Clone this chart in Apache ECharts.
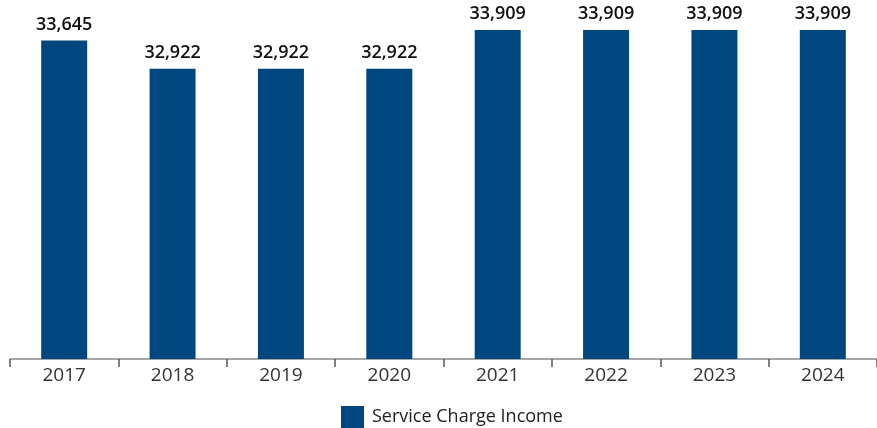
<!DOCTYPE html>
<html>
<head>
<meta charset="utf-8">
<script src="https://cdn.jsdelivr.net/npm/echarts@6/dist/echarts.min.js"></script>
<style>
  html, body { margin: 0; padding: 0; background: #fff; }
  #chart { width: 877px; height: 428px; }
</style>
</head>
<body>
<div id="chart"></div>
<script>
// Service charge income by year
const years = ['2017', '2018', '2019', '2020', '2021', '2022', '2023', '2024'];
const serviceChargeIncome = [33645, 32922, 32922, 32922, 33909, 33909, 33909, 33909];
const seriesName = 'Service Charge Income';

const barColor = '#00477F';
const fontFamily = '"Open Sans", "Noto Sans", sans-serif';

const chart = echarts.init(document.getElementById('chart'));
chart.setOption({
  animation: false,
  grid: { left: 10, right: -4, top: 7, bottom: 69, containLabel: false },
  legend: {
    data: [seriesName],
    icon: 'rect',
    left: 336,
    top: 401,
    itemWidth: 23,
    itemHeight: 22,
    itemGap: 8,
    textStyle: { fontFamily, fontSize: 18, color: '#222', fontWeight: 500, padding: [0, 0, 0, 3] }
  },
  xAxis: {
    type: 'category',
    data: years,
    axisLine: { lineStyle: { color: '#8a8a8a', width: 1.5 } },
    axisTick: { show: true, length: 8, lineStyle: { color: '#555', width: 1.5 } },
    axisLabel: { fontFamily, fontSize: 19, color: '#333', margin: 7 }
  },
  yAxis: {
    type: 'value',
    min: 25500,
    max: 34500,
    show: false,
    splitLine: { show: false }
  },
  series: [{
    name: seriesName,
    type: 'bar',
    data: serviceChargeIncome,
    barWidth: 46,
    itemStyle: { color: barColor },
    label: {
      show: true,
      position: 'top',
      distance: 7,
      fontFamily,
      fontSize: 18,
      fontWeight: 600,
      color: '#111',
      formatter: p => p.value.toLocaleString('en-US')
    }
  }]
});
</script>
</body>
</html>
